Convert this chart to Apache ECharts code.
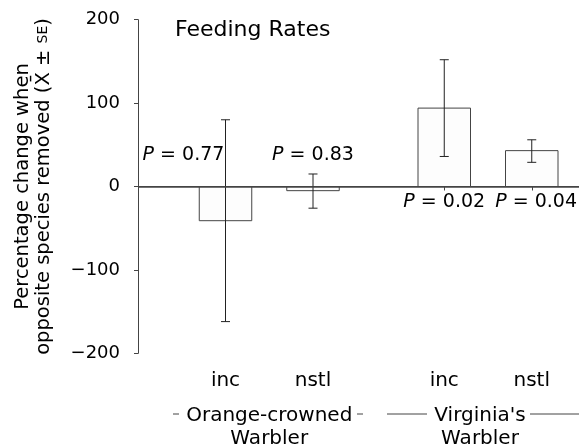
<!DOCTYPE html>
<html>
<head>
<meta charset="utf-8">
<script src="https://cdn.jsdelivr.net/npm/echarts@6/dist/echarts.min.js"></script>
<style>
html,body{margin:0;padding:0;background:#fff;}
#chart{width:579px;height:446px;}
</style>
</head>
<body>
<div id="chart"></div>
<script>
// ---- data ----
const categories = ['inc', 'nstl', 'inc', 'nstl'];
const xPositions = [1, 2, 3.5, 4.5];           // category placement on the x scale
const means = [-41, -5, 94, 43];                // percentage change (mean)
const errLow = [-162, -26, 36, 29];             // mean - SE
const errHigh = [80, 15, 152, 56];              // mean + SE
const pValues = ['0.77', '0.83', '0.02', '0.04'];
const pLabelX = [0.52, 2, 3.5, 4.55];
const pLabelY = [38, 38, -19, -19];
const yTicks = [-200, -100, 0, 100, 200];
const groups = ['Orange-crowned\nWarbler', "Virginia's\nWarbler"];

const FONT = 'DejaVu Sans';
const INK = '#000';
const chart = echarts.init(document.getElementById('chart'), null, {renderer: 'canvas'});

const barData = xPositions.map((x, i) => [x, means[i], errLow[i], errHigh[i]]);
const pData = pLabelX.map((x, i) => ({value: [x, pLabelY[i]], p: pValues[i]}));

const option = {
  backgroundColor: '#fff',
  animation: false,
  title: {
    text: 'Feeding Rates',
    left: 170, top: 14,
    textStyle: {fontFamily: FONT, fontSize: 22, fontWeight: 'normal', color: INK}
  },
  grid: {left: 138, right: 0, top: 19.7, bottom: 92.7, containLabel: false},
  xAxis: {
    type: 'value', min: 0, max: 5.04,
    splitLine: {show: false},
    axisLine: {show: true, lineStyle: {color: '#444', width: 1}},
    axisTick: {show: true, customValues: xPositions, length: 4, lineStyle: {color: '#444'}},
    axisLabel: {
      show: true, customValues: xPositions, margin: 17,
      fontFamily: FONT, fontSize: 20, color: INK,
      formatter: v => categories[xPositions.indexOf(v)] || ''
    }
  },
  yAxis: {
    type: 'value', min: yTicks[0], max: yTicks[yTicks.length - 1], interval: 100,
    splitLine: {show: false},
    axisLine: {show: true, onZero: false, lineStyle: {color: '#444', width: 1}},
    axisTick: {show: true, length: 4, lineStyle: {color: '#444'}},
    axisLabel: {
      margin: 18, fontFamily: FONT, fontSize: 18, color: INK,
      formatter: v => v < 0 ? '\u2212' + Math.abs(v) : String(v)
    },
    name: 'Percentage change when\nopposite species removed (X\u0304 \u00b1 {s|SE})',
    nameLocation: 'middle', nameGap: 84, nameRotate: 90,
    nameTextStyle: {
      fontFamily: FONT, fontSize: 19.5, lineHeight: 21, color: INK,
      rich: {s: {fontFamily: FONT, fontSize: 14, lineHeight: 21, color: INK}}
    }
  },
  series: [
    {
      type: 'custom',
      data: barData,
      encode: {x: 0, y: 1},
      renderItem: function (params, api) {
        const x = api.value(0), y = api.value(1), lo = api.value(2), hi = api.value(3);
        const p0 = api.coord([x - 0.3, 0]);
        const p1 = api.coord([x + 0.3, y]);
        const pl = api.coord([x, lo]);
        const ph = api.coord([x, hi]);
        const cap = 4.5;
        return {
          type: 'group',
          children: [
            {type: 'rect', shape: {x: p0[0], y: Math.min(p0[1], p1[1]), width: p1[0] - p0[0], height: Math.abs(p1[1] - p0[1])},
             style: {fill: '#fdfdfd', stroke: '#444', lineWidth: 1}},
            {type: 'line', shape: {x1: pl[0], y1: pl[1], x2: ph[0], y2: ph[1]}, style: {stroke: '#222', lineWidth: 1}},
            {type: 'line', shape: {x1: ph[0] - cap, y1: ph[1], x2: ph[0] + cap, y2: ph[1]}, style: {stroke: '#222', lineWidth: 1}},
            {type: 'line', shape: {x1: pl[0] - cap, y1: pl[1], x2: pl[0] + cap, y2: pl[1]}, style: {stroke: '#222', lineWidth: 1}}
          ]
        };
      },
      markLine: {
        silent: true, symbol: 'none', label: {show: false},
        lineStyle: {color: '#444', width: 1.5, type: 'solid'},
        data: [{yAxis: 0}]
      },
      z: 2
    },
    {
      type: 'scatter',
      data: pData,
      symbolSize: 0,
      silent: true,
      itemStyle: {opacity: 1},
      label: {
        show: true, position: 'inside', opacity: 1,
        fontFamily: FONT, fontSize: 19, color: INK, textBorderWidth: 0,
        formatter: p => '{i|P} = ' + p.data.p,
        rich: {i: {fontFamily: FONT, fontSize: 19, fontStyle: 'italic', color: INK, textBorderWidth: 0}}
      },
      z: 3
    }
  ]
};
chart.setOption(option);

// group labels under axis, centred between their two categories
function groupCenter(i) {
  const a = chart.convertToPixel({xAxisIndex: 0}, xPositions[i * 2]);
  const b = chart.convertToPixel({xAxisIndex: 0}, xPositions[i * 2 + 1]);
  return (a + b) / 2;
}
const g0 = groupCenter(0), g1 = groupCenter(1) - 8;
const ly = 414;
chart.setOption({
  graphic: [
    {type: 'text', x: g0, y: 404, style: {text: groups[0], font: '20px "DejaVu Sans"', fill: INK, align: 'center', lineHeight: 23}},
    {type: 'text', x: g1, y: 404, style: {text: groups[1], font: '20px "DejaVu Sans"', fill: INK, align: 'center', lineHeight: 23}},
    {type: 'line', shape: {x1: 173, y1: ly, x2: 179, y2: ly}, style: {stroke: '#444', lineWidth: 1}},
    {type: 'line', shape: {x1: 357, y1: ly, x2: 363, y2: ly}, style: {stroke: '#444', lineWidth: 1}},
    {type: 'line', shape: {x1: 387, y1: ly, x2: 427, y2: ly}, style: {stroke: '#444', lineWidth: 1}},
    {type: 'line', shape: {x1: 530, y1: ly, x2: 579, y2: ly}, style: {stroke: '#444', lineWidth: 1}}
  ]
});
</script>
</body>
</html>
